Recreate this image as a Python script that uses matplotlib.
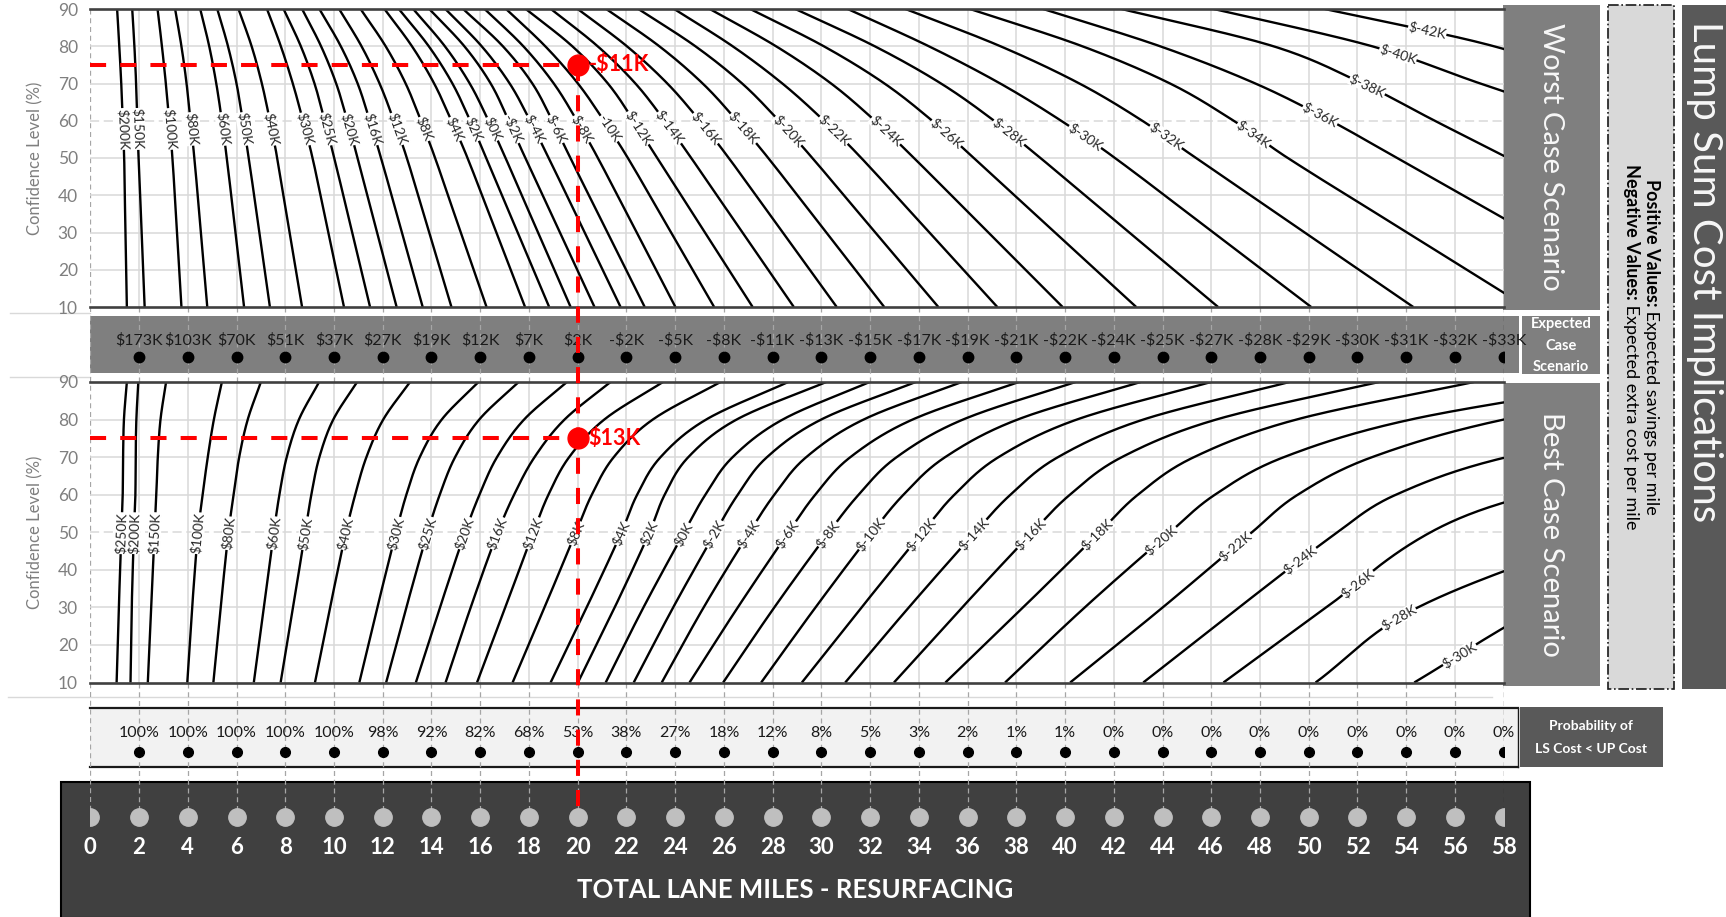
import numpy as np
import matplotlib
matplotlib.use("Agg")
import matplotlib.pyplot as plt
from matplotlib.patches import Rectangle

plt.rcParams['font.family'] = ['Lato', 'DejaVu Sans']
plt.rcParams['text.parse_math'] = False

W, H = 1726, 917

# ---------------- data ----------------
MILES = list(range(0, 60, 2))
CONF_LEVELS = [10, 30, 50, 60, 70, 80, 90]

# Worst case: lane-mile position of each savings contour at CONF_LEVELS
WORST_LABELS = ["$200K", "$150K", "$100K", "$80K", "$60K", "$50K", "$40K", "$30K",
                "$25K", "$20K", "$16K", "$12K", "$8K", "$4K", "$2K", "$0K", "-$2K",
                "$-4K", "$-6K", "$-8K", "-10K", "$-12K", "$-14K", "$-16K", "$-18K",
                "$-20K", "$-22K", "$-24K", "$-26K", "$-28K", "$-30K", "$-32K",
                "$-34K", "$-36K", "$-38K", "$-40K", "$-42K"]
WORST_X = [
    [1.50, 1.44, 1.39, 1.33, 1.27, 1.19, 1.10],
    [2.23, 2.11, 1.98, 1.93, 1.88, 1.81, 1.72],
    [3.74, 3.56, 3.37, 3.24, 3.10, 2.94, 2.76],
    [4.80, 4.54, 4.27, 4.11, 3.95, 3.74, 3.48],
    [6.31, 5.96, 5.60, 5.40, 5.17, 4.88, 4.51],
    [7.37, 6.94, 6.50, 6.26, 6.00, 5.65, 5.21],
    [8.69, 8.18, 7.67, 7.37, 7.04, 6.62, 6.08],
    [10.41, 9.77, 9.12, 8.73, 8.31, 7.82, 7.25],
    [11.48, 10.75, 10.01, 9.62, 9.20, 8.64, 7.93],
    [12.57, 11.77, 10.97, 10.55, 10.09, 9.47, 8.69],
    [13.64, 12.79, 11.93, 11.47, 10.97, 10.28, 9.40],
    [14.82, 13.91, 12.99, 12.46, 11.87, 11.13, 10.21],
    [16.26, 15.20, 14.15, 13.57, 12.94, 12.12, 11.09],
    [17.84, 16.66, 15.48, 14.82, 14.11, 13.20, 12.07],
    [18.83, 17.54, 16.25, 15.59, 14.86, 13.89, 12.66],
    [19.71, 18.37, 17.04, 16.34, 15.57, 14.55, 13.25],
    [20.69, 19.27, 17.85, 17.17, 16.43, 15.35, 13.91],
    [21.76, 20.29, 18.81, 18.05, 17.21, 16.06, 14.57],
    [22.75, 21.22, 19.70, 18.96, 18.14, 16.93, 15.30],
    [24.01, 22.42, 20.83, 19.97, 19.02, 17.77, 16.18],
    [25.60, 23.83, 22.06, 21.08, 20.01, 18.67, 17.06],
    [27.18, 25.22, 23.26, 22.30, 21.24, 19.78, 17.87],
    [28.87, 26.76, 24.66, 23.57, 22.37, 20.82, 18.90],
    [30.63, 28.42, 26.20, 25.01, 23.68, 22.02, 20.00],
    [32.58, 30.20, 27.82, 26.54, 25.13, 23.35, 21.17],
    [34.80, 32.21, 29.63, 28.26, 26.75, 24.83, 22.49],
    [37.22, 34.43, 31.64, 30.11, 28.40, 26.36, 23.96],
    [39.90, 36.85, 33.80, 32.20, 30.40, 28.14, 25.42],
    [42.92, 39.59, 36.26, 34.55, 32.59, 30.10, 27.08],
    [46.28, 42.64, 38.99, 37.09, 34.91, 32.19, 28.93],
    [50.10, 46.08, 42.05, 39.84, 37.34, 34.41, 31.08],
    [54.29, 49.83, 45.37, 43.17, 40.59, 37.35, 33.45],
    [58.94, 54.04, 49.14, 46.92, 44.31, 40.71, 36.10],
    [64.42, 59.02, 53.62, 50.90, 47.81, 43.90, 39.10],
    [70.20, 64.20, 58.17, 55.17, 52.21, 48.55, 42.32],
    [84.60, 75.40, 66.20, 61.60, 57.04, 52.60, 46.10],
    [86.00, 78.00, 70.00, 66.00, 62.00, 57.60, 50.66],
]

# Best case
BEST_LABELS = ["$250K", "$200K", "$150K", "$100K", "$80K", "$60K", "$50K", "$40K",
               "$30K", "$25K", "$20K", "$16K", "$12K", "$8K", "$4K", "$2K", "$0K",
               "$-2K", "$-4K", "$-6K", "$-8K", "$-10K", "$-12K", "$-14K", "$-16K",
               "$-18K", "$-20K", "$-22K", "$-24K", "$-26K", "$-28K", "$-30K"]
BEST_X = [
    [1.08, 1.17, 1.28, 1.33, 1.345, 1.38, 1.50],
    [1.65, 1.70, 1.79, 1.85, 1.86, 1.89, 1.97],
    [2.36, 2.50, 2.64, 2.71, 2.77, 2.88, 3.11],
    [3.98, 4.18, 4.42, 4.61, 4.82, 5.07, 5.40],
    [5.05, 5.35, 5.67, 5.88, 6.11, 6.46, 7.00],
    [6.71, 7.12, 7.53, 7.76, 8.06, 8.56, 9.39],
    [7.81, 8.32, 8.82, 9.07, 9.40, 9.97, 10.95],
    [9.22, 9.84, 10.49, 10.87, 11.33, 12.02, 13.12],
    [11.04, 11.78, 12.55, 12.97, 13.52, 14.42, 15.93],
    [12.14, 12.97, 13.84, 14.34, 14.97, 15.96, 17.58],
    [13.36, 14.35, 15.38, 15.97, 16.69, 17.80, 19.56],
    [14.58, 15.61, 16.72, 17.39, 18.23, 19.46, 21.35],
    [15.87, 17.03, 18.18, 18.80, 19.65, 21.09, 23.50],
    [17.33, 18.64, 19.93, 20.58, 21.48, 23.08, 25.86],
    [18.89, 20.37, 21.80, 22.44, 23.40, 25.27, 28.64],
    [20.01, 21.52, 22.95, 23.57, 24.54, 26.52, 30.20],
    [21.15, 22.70, 24.37, 25.24, 26.36, 28.41, 31.98],
    [22.30, 23.92, 25.65, 26.57, 27.77, 29.99, 33.87],
    [23.45, 25.17, 27.05, 28.07, 29.38, 31.73, 35.76],
    [24.59, 26.57, 28.65, 29.75, 31.19, 33.74, 38.10],
    [25.97, 28.07, 30.31, 31.53, 33.09, 35.81, 40.43],
    [27.53, 29.76, 32.09, 33.37, 35.08, 38.05, 43.10],
    [29.20, 31.65, 34.15, 35.46, 37.27, 40.48, 45.99],
    [30.98, 33.59, 36.31, 37.76, 39.71, 43.21, 49.21],
    [32.98, 35.78, 38.66, 40.20, 42.33, 46.20, 52.89],
    [35.09, 38.28, 41.42, 42.99, 45.29, 49.49, 56.78],
    [37.54, 40.81, 44.31, 46.15, 48.98, 54.18, 63.09],
    [40.21, 44.01, 47.67, 49.55, 52.60, 58.00, 66.92],
    [43.21, 47.14, 51.18, 53.58, 58.12, 66.47, 80.30],
    [46.50, 50.72, 55.00, 59.19, 67.30, 81.30, 103.0],
    [50.28, 54.48, 62.56, 68.00, 78.00, 88.00, 98.00],
    [54.33, 59.50, 66.00, 71.00, 78.00, 86.00, 94.00],
]

EXPECTED_MILES = list(range(2, 60, 2))
EXPECTED_LABELS = ["$173K", "$103K", "$70K", "$51K", "$37K", "$27K", "$19K", "$12K",
                   "$7K", "$2K", "-$2K", "-$5K", "-$8K", "-$11K", "-$13K", "-$15K",
                   "-$17K", "-$19K", "-$21K", "-$22K", "-$24K", "-$25K", "-$27K",
                   "-$28K", "-$29K", "-$30K", "-$31K", "-$32K", "-$33K"]
PROB_LABELS = ["100%", "100%", "100%", "100%", "100%", "98%", "92%", "82%", "68%",
               "53%", "38%", "27%", "18%", "12%", "8%", "5%", "3%", "2%", "1%", "1%",
               "0%", "0%", "0%", "0%", "0%", "0%", "0%", "0%", "0%"]

MARK_MILES = 20
MARK_CONF = 75
WORST_MARK_TEXT = "-$11K"
BEST_MARK_TEXT = "$13K"

# confidence level at which each contour's label is placed
WORST_LABEL_AT = [57.8] * 20 + [57.9, 58.1, 58.2, 58.0, 58.0, 57.3, 57.5, 57.3,
                                56.7, 56.9, 55.7, 55.7, 56.4, 61.5, 69.4, 77.9, 84.2]
BEST_LABEL_AT = [49.75] * 16 + [49.5] * 9 + [49.4, 48.0, 46.3, 42.7, 36.5, 27.2, 17.4]


# ---------------- helpers ----------------
def fx(px):
    return px / W


def fy(py):
    return 1 - py / H


def smooth_curve(ys, xs, n=30):
    """Cubic Hermite line through the points, x as a function of y."""
    ys = np.asarray(ys, float)
    xs = np.asarray(xs, float)
    m = np.empty_like(xs)
    m[1:-1] = (xs[2:] - xs[:-2]) / (ys[2:] - ys[:-2])
    m[0] = (xs[1] - xs[0]) / (ys[1] - ys[0])
    m[-1] = (xs[-1] - xs[-2]) / (ys[-1] - ys[-2])
    oy, ox = [], []
    for i in range(len(ys) - 1):
        h = ys[i + 1] - ys[i]
        t = np.linspace(0, 1, n, endpoint=(i == len(ys) - 2))
        h00 = 2 * t ** 3 - 3 * t ** 2 + 1
        h10 = t ** 3 - 2 * t ** 2 + t
        h01 = -2 * t ** 3 + 3 * t ** 2
        h11 = t ** 3 - t ** 2
        ox.append(h00 * xs[i] + h10 * h * m[i] + h01 * xs[i + 1] + h11 * h * m[i + 1])
        oy.append(ys[i] + t * h)
    return np.concatenate(oy), np.concatenate(ox)


def draw_panel(ax, labels, xs_list, label_at, dashed_y):
    ax.set_xlim(0, 58)
    ax.set_ylim(10, 90)
    ax.set_facecolor('none')
    for m in range(2, 59, 2):
        ax.axvline(m, color='#d9d9d9', lw=1.1, zorder=0)
    for c in range(20, 90, 10):
        ax.axhline(c, color='#d9d9d9', lw=1.1, zorder=0,
                   ls=(0, (6, 3)) if c == dashed_y else '-')
    for lab, xs, yl in zip(labels, xs_list, label_at):
        yy, xx = smooth_curve(CONF_LEVELS, xs)
        ax.plot(xx, yy, color='black', lw=1.7, zorder=2, solid_capstyle='butt')
        x0 = np.interp(yl, yy, xx)
        x1 = np.interp(yl + 1, yy, xx)
        p0 = ax.transData.transform((x0, yl))
        p1 = ax.transData.transform((x1, yl + 1))
        ang = np.degrees(np.arctan2(p1[1] - p0[1], p1[0] - p0[0]))
        if ang > 90:
            ang -= 180
        if ang < -90:
            ang += 180
        ax.text(x0, yl, lab, rotation=ang, rotation_mode='anchor', ha='center',
                va='center', fontsize=10, color='#262626', zorder=3,
                bbox=dict(boxstyle='square,pad=0.02', fc='white', ec='none'))
    for s in ['left', 'right']:
        ax.spines[s].set_visible(False)
    for s in ['top', 'bottom']:
        ax.spines[s].set_color('#404040')
        ax.spines[s].set_linewidth(1.9)
    ax.set_xticks([])
    ax.set_yticks(range(10, 100, 10))
    ax.tick_params(axis='y', length=0, pad=9, labelsize=12.5, labelcolor='#7f7f7f')
    ax.set_ylabel('Confidence Level (%)', fontsize=12, color='#7f7f7f')
    ax.yaxis.set_label_coords(-0.033, 0.5)


fig = plt.figure(figsize=(W / 100, H / 100), dpi=100)

# background boxes in pixel space
bg = fig.add_axes([0, 0, 1, 1], zorder=0)
bg.set_xlim(0, W)
bg.set_ylim(H, 0)
bg.axis('off')


def box(x0, y0, x1, y1, fc, ec='none', lw=0, ls='-'):
    bg.add_patch(Rectangle((x0, y0), x1 - x0, y1 - y0, fc=fc, ec=ec, lw=lw, ls=ls))


# thin separators at the left margin and under the lower panel
for y0, x0, x1 in [(313, 10, 90), (377, 10, 90), (697, 8, 1492)]:
    bg.plot([x0, x1], [y0, y0], color='#d9d9d9', lw=1.0)

# expected band
box(90.3, 316, 1519, 373, '#7f7f7f')
box(1522, 316, 1600, 374, '#7f7f7f')
for i, s in enumerate(["Expected", "Case", "Scenario"]):
    bg.text(1561, 324 + i * 21.5, s, ha='center', va='center', fontsize=10.5,
            fontweight='bold', color='white')
# probability band
box(90.3, 708, 1518, 767, '#f2f2f2')
bg.plot([90.3, 1518], [708, 708], color='#1a1a1a', lw=1.6)
bg.plot([90.3, 1518], [767, 767], color='#1a1a1a', lw=1.6)
bg.plot([1518, 1518], [708, 767], color='#1a1a1a', lw=1.0)
box(1520, 707, 1663, 767, '#595959')
bg.text(1591, 726, "Probability of", ha='center', va='center', fontsize=10,
        fontweight='bold', color='white')
bg.text(1591, 749, "LS Cost < UP Cost", ha='center', va='center', fontsize=10,
        fontweight='bold', color='white')
# miles band
box(61, 782, 1530, 918, '#404040', ec='black', lw=1.5)
bg.text((61 + 1530) / 2, 890, "TOTAL LANE MILES - RESURFACING", ha='center',
        va='center', fontsize=18.5, fontweight='bold', color='white')
# scenario boxes
box(1503, 5, 1600, 310, '#7f7f7f')
bg.text(1551, 157, "Worst Case Scenario", rotation=-90, ha='center', va='center',
        fontsize=21, color='#f7f7f7')
box(1503, 383, 1600, 686, '#7f7f7f')
bg.text(1551, 534, "Best Case Scenario", rotation=-90, ha='center', va='center',
        fontsize=21, color='#f7f7f7')
box(1608, 5, 1674, 689, '#d9d9d9', ec='#1a1a1a', lw=1.2, ls='-.')
box(1682, 5, 1726, 689, '#595959')
bg.text(1704, 272, "Lump Sum Cost Implications", rotation=-90, ha='center',
        va='center', fontsize=29, color='#f7f7f7')

# two-part rotated legend lines (bold lead-in, regular remainder)
renderer = fig.canvas.get_renderer()
for xc, lead, rest in [(1651, "Positive Values:", " Expected savings per mile"),
                       (1631, "Negative Values:", " Expected extra cost per mile")]:
    t1 = bg.text(xc, 0, lead, rotation=-90, ha='center', va='top', fontsize=13,
                 fontweight='bold', color='black')
    t2 = bg.text(xc, 0, rest, rotation=-90, ha='center', va='top', fontsize=13,
                 color='black')
    h1 = t1.get_window_extent(renderer).height
    h2 = t2.get_window_extent(renderer).height
    y_start = 347 - (h1 + h2) / 2
    t1.set_y(y_start)
    t2.set_y(y_start + h1)

# dashed guide lines spanning the bands (miles on x, pixels on y)
left, width = fx(90.3), (1503.7 - 90.3) / W
guide = fig.add_axes([left, 0, width, 1], zorder=1)
guide.set_xlim(0, 58)
guide.set_ylim(H, 0)
guide.axis('off')
guide.plot([0, 0], [9, 817], color='#a6a6a6', lw=0.9, ls=(0, (4, 3)))
for m in MILES[1:]:
    col = '#262626' if m == 58 else '#a6a6a6'
    guide.plot([m, m], [307, 382], color=col, lw=0.9, ls=(0, (4, 3)))
    guide.plot([m, m], [682.5, 817], color=col, lw=0.9, ls=(0, (4, 3)))

# the two scenario panels
top = fig.add_axes([left, fy(307), width, 298 / H], zorder=2)
draw_panel(top, WORST_LABELS, WORST_X, WORST_LABEL_AT, 60)
bot = fig.add_axes([left, fy(682.5), width, 300.5 / H], zorder=2)
draw_panel(bot, BEST_LABELS, BEST_X, BEST_LABEL_AT, 50)

red = '#ff0000'
for ax, txt in [(top, WORST_MARK_TEXT), (bot, BEST_MARK_TEXT)]:
    ax.plot([0, MARK_MILES], [MARK_CONF, MARK_CONF], color=red, lw=2.9,
            ls=(0, (4, 3.5)), zorder=5, clip_on=False)
    ax.plot([MARK_MILES], [MARK_CONF], 'o', color=red, ms=15, zorder=6, clip_on=False)
    ax.text(MARK_MILES + 0.45, MARK_CONF, txt, color=red, fontsize=15.5,
            fontweight='bold', ha='left', va='center', zorder=6)

# band contents
exp_ax = fig.add_axes([left, fy(373), width, 57 / H], zorder=3)
prob_ax = fig.add_axes([left, fy(767), width, 59 / H], zorder=3)
mile_ax = fig.add_axes([left, fy(917), width, 135 / H], zorder=3)
for a in (exp_ax, prob_ax, mile_ax):
    a.set_xlim(0, 58)
    a.set_ylim(0, 1)
    a.axis('off')

exp_ax.plot(EXPECTED_MILES, [0.275] * len(EXPECTED_MILES), 'o', color='black', ms=7.5)
for m, s in zip(EXPECTED_MILES, EXPECTED_LABELS):
    exp_ax.text(m, 0.58, s, ha='center', va='center', fontsize=11.5, color='#1a1a1a')
prob_ax.plot(EXPECTED_MILES, [0.26] * len(EXPECTED_MILES), 'o', color='black', ms=7)
for m, s in zip(EXPECTED_MILES, PROB_LABELS):
    prob_ax.text(m, 0.58, s, ha='center', va='center', fontsize=11.5, color='#1a1a1a')
mile_ax.plot(MILES, [0.74] * len(MILES), 'o', color='#bfbfbf', ms=12.5)
for m in MILES:
    mile_ax.text(m, 0.515, str(m), ha='center', va='center', fontsize=16,
                 fontweight='bold', color='white')

# red marker line running down through the bands
red_ax = fig.add_axes([left, 0, width, 1], zorder=4)
red_ax.set_xlim(0, 58)
red_ax.set_ylim(H, 0)
red_ax.axis('off')
y_mark = H - top.transData.transform((MARK_MILES, MARK_CONF))[1]
red_ax.plot([MARK_MILES, MARK_MILES], [y_mark, 807], color=red, lw=2.9,
            ls=(0, (4, 3.5)))

fig.savefig('out.png', dpi=100)
